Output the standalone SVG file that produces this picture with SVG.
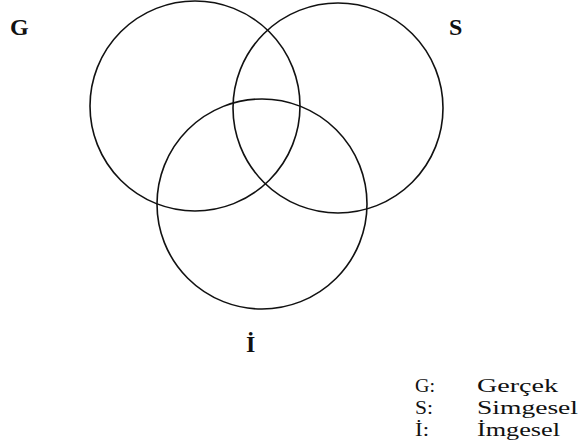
<svg xmlns="http://www.w3.org/2000/svg" width="582" height="444" viewBox="0 0 582 444">
<style>
.c{fill:none;stroke:#111;stroke-width:1.6}
.lbl{font-family:"Liberation Serif","Times New Roman",serif;font-weight:bold;font-size:24px;fill:#111}
.leg{font-family:"Liberation Serif","Times New Roman",serif;font-size:19px;fill:#111}
</style>
<rect width="582" height="444" fill="#fff"/>
<g id="circle-G"><circle class="c" cx="195" cy="106" r="105"/></g>
<g id="circle-S"><circle class="c" cx="338" cy="108" r="105"/></g>
<g id="circle-I"><circle class="c" cx="262" cy="204" r="105"/></g>
<g id="label-G"><text class="lbl" x="10" y="35">G</text></g>
<g id="label-S"><text class="lbl" x="449" y="35">S</text></g>
<g id="label-I"><text class="lbl" x="246" y="352">İ</text></g>
<g id="legend">
<text class="leg" x="415" y="392" textLength="20" lengthAdjust="spacingAndGlyphs">G:</text><text class="leg" x="477" y="392" textLength="81" lengthAdjust="spacingAndGlyphs">Gerçek</text>
<text class="leg" x="415" y="414" textLength="18" lengthAdjust="spacingAndGlyphs">S:</text><text class="leg" x="477" y="414" textLength="101" lengthAdjust="spacingAndGlyphs">Simgesel</text>
<text class="leg" x="415" y="436" textLength="14" lengthAdjust="spacingAndGlyphs">İ:</text><text class="leg" x="477" y="436" textLength="83" lengthAdjust="spacingAndGlyphs">İmgesel</text>
</g>
<g id="connectors"></g>
</svg>
